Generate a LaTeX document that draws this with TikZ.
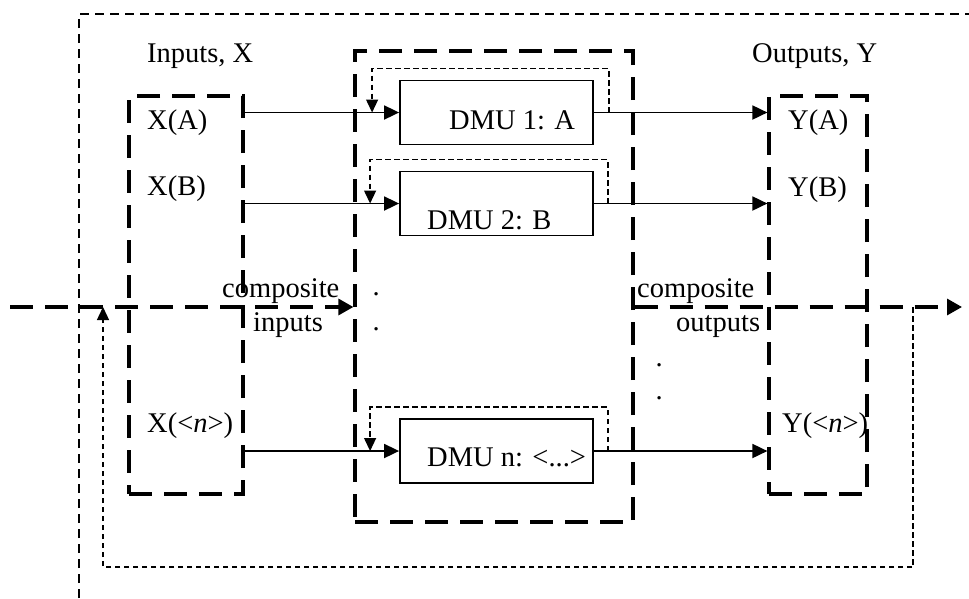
\documentclass[tikz,border=0pt]{standalone}
\usepackage{fontspec}
\setmainfont{Liberation Serif}
\usetikzlibrary{arrows.meta,calc}
\begin{document}
\begin{tikzpicture}[x=1pt,y=-1pt,
  txt/.style={anchor=base west,inner sep=0pt,font=\fontsize{28.5}{34}\selectfont},
  grp/.style={draw,line width=3.2pt,dash pattern=on 23pt off 12pt,inner sep=0pt},
  dmu/.style={draw,line width=1.8pt,minimum width=193pt,minimum height=64pt,inner sep=0pt},
  flow/.style={line width=1.8pt,-{Triangle[length=15pt,width=14pt]}},
  fb/.style={line width=1.3pt,dash pattern=on 5.5pt off 3.5pt,-{Triangle[length=13pt,width=12pt]}},
  outer/.style={line width=1.4pt,dash pattern=on 9pt off 6pt},
  mainline/.style={line width=3.2pt,dash pattern=on 23pt off 12pt,-{Triangle[length=15pt,width=16pt]}}
]
\useasboundingbox (0,0) rectangle (969,598);

% outer open frame
\coordinate (oBL) at (79,598);
\coordinate (oTL) at (79,14);
\coordinate (oTR) at (969,14);
\draw[outer] (oBL) -- (oTL) -- (oTR);

% group boxes
\node[grp,minimum width=114pt,minimum height=398pt] (inbox) at (186,295) {};
\node[grp,minimum width=278pt,minimum height=471pt] (midbox) at (494,286.5) {};
\node[grp,minimum width=98pt,minimum height=398pt] (outbox) at (818,295) {};

% DMU boxes
\node[dmu] (dmu1) at (496.5,112.5) {};
\node[dmu] (dmu2) at (496.5,203.5) {};
\node[dmu] (dmun) at (496.5,451) {};

% labels
\node[txt] (inl) at (147,62) {Inputs, X};
\node[txt] (outl) at (752,62) {Outputs, Y};
\node[txt] (xa) at (147,129) {X(A)};
\node[txt] (xb) at (147,195) {X(B)};
\node[txt] (xn) at (147,432) {X(<\textit{n}>)};
\node[txt] (ya) at (788,129) {Y(A)};
\node[txt] (yb) at (788,196) {Y(B)};
\node[txt] (yn) at (782,432) {Y(<\textit{n}>)};
\node[txt] (d1t) at (449,129) {DMU 1: A};
\node[txt] (d2t) at (427,229) {DMU 2: B};
\node[txt] (dnt) at (427,466) {DMU n: <...>};
\node[txt] (ci1) at (222,297) {composite};
\node[txt] (ci2) at (253,331) {inputs};
\node[txt] (co1) at (637,297) {composite};
\node[txt] (co2) at (676,331) {outputs};
\node[txt] (dot1) at (372.5,295) {.};
\node[txt] (dot2) at (372.5,330.5) {.};
\node[txt] (dot3) at (655.5,366) {.};
\node[txt] (dot4) at (655.5,399.5) {.};

% flows and small feedback loops
\foreach \d/\r/\l in {dmu1/15/27,dmu2/14/29,dmun/14/29} {
  \draw[flow] (\d.west -| inbox.east) -- (\d.west);
  \draw[flow] (\d.east) -- (\d.east -| outbox.west);
  \draw[fb] ([xshift=\r pt]\d.east) -- ++(0,-44) -| ([xshift=-\l pt]\d.west);
}

% composite main line
\coordinate (mL) at (10,307);
\coordinate (mR) at (962,307);
\draw[mainline] (mL) -- (mL -| midbox.west);
\draw[mainline] (mL -| midbox.east) -- (mR);

% outer feedback loop
\coordinate (fbS) at (913,307);
\coordinate (fbB) at (103,567);
\coordinate (fbE) at (103,307);
\draw[fb] (fbS) |- (fbB) -- (fbE);
\end{tikzpicture}
\end{document}
